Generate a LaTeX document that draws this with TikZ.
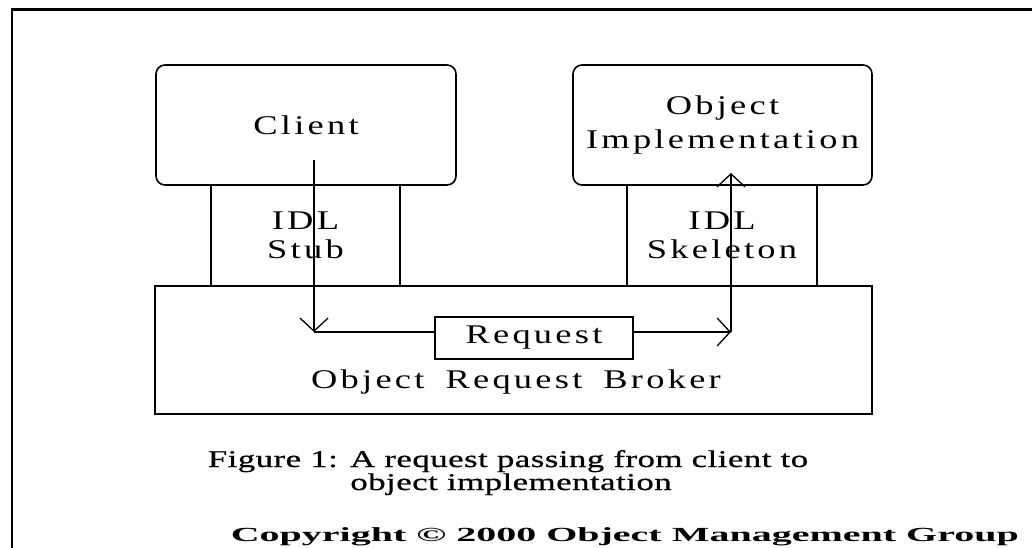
\documentclass[tikz,border=0pt]{standalone}
\usepackage{fontspec}
\setmainfont{Liberation Serif}
\newfontfamily\labelfont[FakeStretch=1.35,LetterSpace=12,WordSpace=1.7]{Liberation Serif}
\newfontfamily\capfont[FakeStretch=1.45,LetterSpace=2,FakeBold=0.8]{Liberation Serif}
\newfontfamily\copyfont[FakeStretch=2.0]{Liberation Serif}
\usetikzlibrary{arrows.meta}

\tikzset{
  box/.style={draw, line width=1.6pt, inner sep=0pt, align=center,
    font=\labelfont\fontsize{27}{30}\selectfont},
  roundbox/.style={box, rounded corners=9pt},
  txt/.style={inner sep=0pt, anchor=base, font=\labelfont\fontsize{27}{30}\selectfont},
  flow/.style={line width=1.6pt,
    -{Straight Barb[length=13pt,width=28pt,line width=1.3pt]}},
  plain/.style={line width=1.6pt}
}

\begin{document}
\begin{tikzpicture}[x=1pt,y=-1pt]
\useasboundingbox (0,0) rectangle (1032,548);

% page frame
\draw[line width=2.6pt] (12,560) -- (12,9.5) -- (1040,9.5);

% client and server sides
\node[roundbox, minimum width=300pt, minimum height=120pt] (client) at (306,125) {Client};
\node[roundbox, minimum width=299pt, minimum height=120pt] (impl) at (722.5,125)
  {Object\\[4pt]Implementation};

\node[box, minimum width=189pt, minimum height=101pt] (stub) at (305.5,235.5)
  {IDL\\[-1pt]Stub};
\node[box, minimum width=190pt, minimum height=101pt] (skel) at (722,235.5)
  {IDL\\[-1pt]Skeleton};

% broker
\node[box, minimum width=717pt, minimum height=128pt] (orb) at (513.5,350) {};
\node[txt] (orblabel) at (516,388) {Object Request Broker};
\node[box, minimum width=198pt, minimum height=42pt] (request) at (534,338) {Request};

% request path
\coordinate (down) at (314,160);
\coordinate (turn) at (314,332);
\coordinate (rise) at (731,332);
\coordinate (up) at (731,173);
\draw[flow] (down) -- (turn);
\draw[plain] (turn) -- (turn -| request.west);
\draw[flow] (request.east |- rise) -- (rise);
\draw[flow] (rise) -- (up);

% caption
\node[inner sep=0pt, anchor=base, font=\capfont\fontsize{24}{28}\selectfont]
  (cap1) at (508,467) {Figure 1: A request passing from client to};
\node[inner sep=0pt, anchor=base, font=\capfont\fontsize{24}{28}\selectfont]
  (cap2) at (511,490) {object implementation};

\node[inner sep=0pt, anchor=base east, font=\copyfont\bfseries\fontsize{20}{22}\selectfont]
  (copy) at (1019,541) {Copyright © 2000 Object Management Group};
\end{tikzpicture}
\end{document}
